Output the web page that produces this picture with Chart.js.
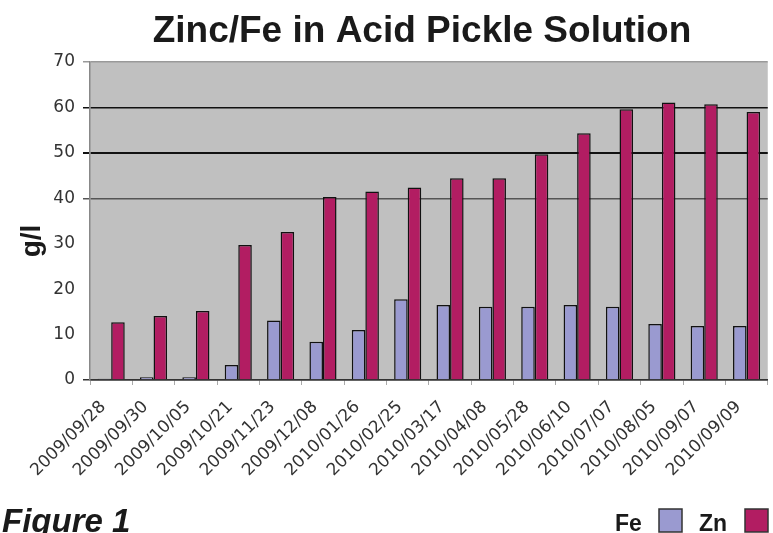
<!DOCTYPE html>
<html>
<head>
<meta charset="utf-8">
<script src="https://cdn.jsdelivr.net/npm/chart.js@4"></script>
<style>
html,body{margin:0;padding:0;background:#fff;}
#wrap{width:773px;height:533px;position:relative;}
</style>
</head>
<body>
<div id="wrap"><canvas id="c" width="773" height="533"></canvas></div>
<script>
const categories = ["2009/09/28","2009/09/30","2009/10/05","2009/10/21","2009/11/23","2009/12/08","2010/01/26","2010/02/25","2010/03/17","2010/04/08","2010/05/28","2010/06/10","2010/07/07","2010/08/05","2010/09/07","2010/09/09"];
const feValues = [0.3, 0.6, 0.6, 3.3, 13.1, 8.4, 11.0, 17.8, 16.5, 16.1, 16.1, 16.5, 16.1, 12.3, 11.9, 11.9];
const znValues = [12.7, 14.1, 15.2, 29.7, 32.6, 40.3, 41.5, 42.4, 44.4, 44.4, 49.7, 54.3, 59.6, 61.1, 60.7, 59.0];
const yTicks = [0, 10, 20, 30, 40, 50, 60, 70];
const titleText = "Zinc/Fe in Acid Pickle Solution";
const yTitle = "g/l";
const figureText = "Figure 1";
const seriesNames = ["Fe", "Zn"];
const seriesColors = ["#9a9ad0", "#b21d62"];

const decor = {
  id: 'decor',
  beforeDraw(chart) {
    const {ctx, chartArea: a} = chart;
    ctx.save();
    ctx.fillStyle = '#c0c0c0';
    ctx.fillRect(a.left, a.top, a.right - a.left, a.bottom - a.top);
    ctx.restore();
  },
  afterDraw(chart) {
    const {ctx} = chart;
    ctx.save();
    ctx.fillStyle = '#1a1a1a';
    ctx.textBaseline = 'alphabetic';
    // title
    ctx.font = 'bold 37px "Liberation Sans", Arial, sans-serif';
    ctx.textAlign = 'center';
    ctx.fillText(titleText, 422, 42);
    // y title
    ctx.save();
    ctx.translate(40, 241);
    ctx.rotate(-Math.PI / 2);
    ctx.font = 'bold 28px "Liberation Sans", Arial, sans-serif';
    ctx.textAlign = 'center';
    ctx.fillText(yTitle, 0, 0);
    ctx.restore();
    // figure label
    ctx.font = 'italic bold 33px "Liberation Sans", Arial, sans-serif';
    ctx.textAlign = 'left';
    ctx.fillText(figureText, 2, 532);
    // legend
    ctx.font = 'bold 23px "Liberation Sans", Arial, sans-serif';
    const items = [{x: 615, bx: 659}, {x: 699, bx: 745}];
    chart.data.datasets.forEach((ds, i) => {
      const it = items[i];
      ctx.fillStyle = '#1a1a1a';
      ctx.fillText(ds.label, it.x, 531);
      ctx.fillStyle = ds.backgroundColor;
      ctx.fillRect(it.bx, 509, 23, 23);
      ctx.strokeStyle = '#333';
      ctx.lineWidth = 1.5;
      ctx.strokeRect(it.bx, 509, 23, 23);
    });
    ctx.restore();
  }
};

function gridColor(v) {
  if (v === 60 || v === 50) return '#111';
  if (v === 40) return '#555';
  if (v === 70) return '#999';
  if (v === 0) return '#333';
  return 'rgba(0,0,0,0)';
}

new Chart(document.getElementById('c'), {
  type: 'bar',
  data: {
    labels: categories,
    datasets: [
      {label: seriesNames[0], data: feValues, backgroundColor: seriesColors[0], borderColor: '#111', borderWidth: 1.5},
      {label: seriesNames[1], data: znValues, backgroundColor: seriesColors[1], borderColor: '#111', borderWidth: 1.5}
    ]
  },
  options: {
    responsive: false,
    animation: false,
    layout: {padding: {top: 62, left: 0, right: 0, bottom: 0}},
    datasets: {bar: {categoryPercentage: 0.64, barPercentage: 1.0}},
    plugins: {legend: {display: false}, title: {display: false}, tooltip: {enabled: false}},
    scales: {
      x: {
        offset: true,
        afterFit: s => { s.height = 153; },
        grid: {display: true, drawOnChartArea: false, tickLength: 5, color: '#aaa', offset: true},
        border: {display: true, color: '#333', width: 1.5},
        ticks: {
          autoSkip: false, minRotation: 45, maxRotation: 45,
          color: '#333', padding: 12, labelOffset: -8,
          font: {family: '"DejaVu Sans", sans-serif', size: 17}
        }
      },
      y: {
        min: 0, max: 70,
        afterFit: s => { s.width = 90; },
        afterBuildTicks: s => { s.ticks = yTicks.map(v => ({value: v})); },
        grid: {
          color: c => gridColor(c.tick.value),
          lineWidth: c => c.tick.value === 50 ? 2 : 1.5,
          tickLength: 7
        },
        border: {display: true, color: '#888', width: 1.5},
        ticks: {
          color: '#333', padding: 8,
          font: {family: '"DejaVu Sans", sans-serif', size: 17}
        }
      }
    }
  },
  plugins: [decor]
});
</script>
</body>
</html>
